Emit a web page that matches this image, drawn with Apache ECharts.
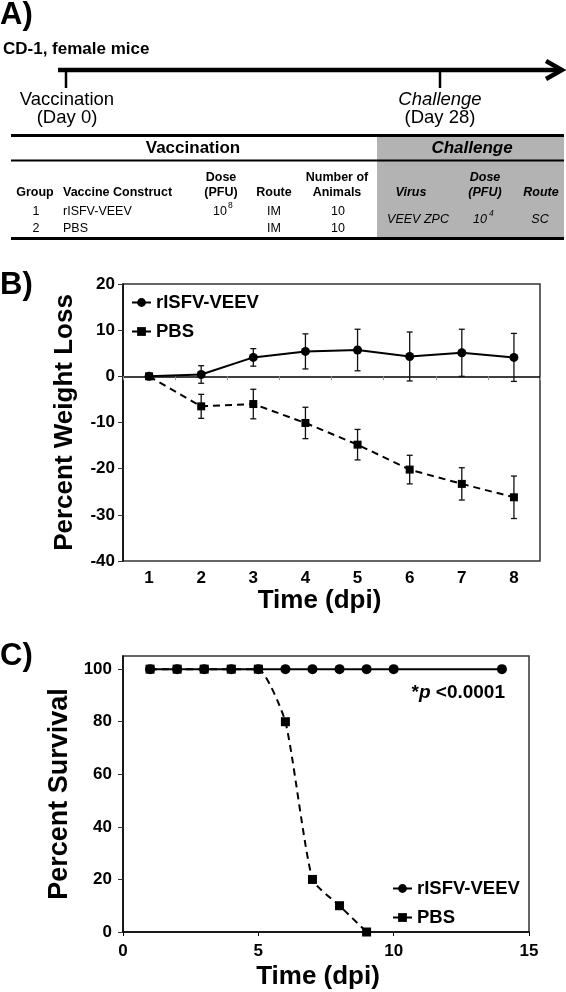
<!DOCTYPE html>
<html>
<head>
<meta charset="utf-8">
<script src="https://cdn.jsdelivr.net/npm/echarts/dist/echarts.min.js"></script>
<style>
html,body{margin:0;padding:0;background:#fff;}
#chart{width:566px;height:992px;}
</style>
</head>
<body>
<div id="chart"></div>
<script>
// ---------- data ----------
const seriesNames = ['rISFV-VEEV', 'PBS'];
// Panel B: percent weight loss by day post infection
const weightDays = ['1', '2', '3', '4', '5', '6', '7', '8'];
const vaccineWeight = [0, 0.4, 4.1, 5.4, 5.7, 4.3, 5.1, 4.1];
const vaccineWeightErr = [0, 1.9, 1.9, 3.8, 4.5, 5.3, 5.1, 5.2];
const pbsWeight = [0, -6.5, -6.0, -10.1, -14.8, -20.2, -23.3, -26.2];
const pbsWeightErr = [0, 2.6, 3.2, 3.4, 3.3, 3.1, 3.5, 4.6];
// Panel C: percent survival
const vaccineSurvDays = [1, 2, 3, 4, 5, 6, 7, 8, 9, 10, 14];
const vaccineSurv = [100, 100, 100, 100, 100, 100, 100, 100, 100, 100, 100];
const pbsSurvDays = [1, 2, 3, 4, 5, 6, 7, 8, 9];
const pbsSurv = [100, 100, 100, 100, 100, 80, 20, 10, 0];
const survTicks = [0, 20, 40, 60, 80, 100];
// Panel A table text
const tableGroups = ['1', '2'];
const tableConstructs = ['rISFV-VEEV', 'PBS'];
const tableRoutes = ['IM', 'IM'];
const tableAnimals = ['10', '10'];

// ---------- helpers ----------
const FF = '"Liberation Sans", Arial, Helvetica, sans-serif';
const font = (size, weight, style) => `${style || 'normal'} ${weight || 'normal'} ${size}px ${FF}`;
function txt(text, x, y, f, align, extra) {
  return Object.assign({
    type: 'text', x: x, y: y, silent: true,
    style: { text: text, font: f, fill: '#000', textAlign: align || 'center', textVerticalAlign: 'middle' }
  }, extra || {});
}
function line(x1, y1, x2, y2, w, color) {
  return { type: 'line', silent: true, shape: { x1, y1, x2, y2 }, style: { stroke: color || '#000', lineWidth: w } };
}
function errSeries(name, xi, yi, xs, vals, errs) {
  const data = [];
  vals.forEach((v, i) => { if (errs[i] > 0) data.push([xs[i], v - errs[i], v + errs[i]]); });
  return {
    type: 'custom', name: name, xAxisIndex: xi, yAxisIndex: yi, z: 1,
    encode: { x: 0, y: [1, 2] },
    data: data,
    renderItem: function (params, api) {
      const lo = api.coord([api.value(0), api.value(1)]);
      const hi = api.coord([api.value(0), api.value(2)]);
      const w = 3;
      const st = { stroke: '#111', lineWidth: 1.3 };
      return {
        type: 'group', children: [
          { type: 'line', shape: { x1: lo[0], y1: lo[1], x2: hi[0], y2: hi[1] }, style: st },
          { type: 'line', shape: { x1: lo[0] - w, y1: lo[1], x2: lo[0] + w, y2: lo[1] }, style: st },
          { type: 'line', shape: { x1: hi[0] - w, y1: hi[1], x2: hi[0] + w, y2: hi[1] }, style: st }
        ]
      };
    }
  };
}

// ---------- panel A graphics ----------
const graphics = [];
graphics.push(txt('A)', 0, 15, font(31, 'bold'), 'left'));
graphics.push(txt('B)', 0, 285, font(31, 'bold'), 'left'));
graphics.push(txt('C)', 0, 656, font(31, 'bold'), 'left'));
graphics.push(txt('CD-1, female mice', 3, 49, font(17, 'bold'), 'left'));
// timeline arrow
graphics.push(line(58, 70, 560, 70, 4.5));
graphics.push({ type: 'polyline', silent: true, shape: { points: [[546, 61], [562, 70], [546, 79]] },
  style: { stroke: '#000', lineWidth: 4.5, fill: null, lineJoin: 'miter' } });
graphics.push(line(66, 70, 66, 88, 2.5));
graphics.push(line(440, 70, 440, 88, 2.5));
graphics.push(txt('Vaccination', 67, 100, font(18.5)));
graphics.push(txt('(Day 0)', 67, 118, font(18.5)));
graphics.push(txt('Challenge', 440, 100, font(18.5, 'normal', 'italic')));
graphics.push(txt('(Day 28)', 440, 118, font(18.5)));
// table
graphics.push({ type: 'rect', silent: true, shape: { x: 377, y: 136, width: 187, height: 102 }, style: { fill: '#b3b3b3' } });
graphics.push(line(11, 135.5, 564, 135.5, 3));
graphics.push(line(11, 160.5, 564, 160.5, 2.2));
graphics.push(line(11, 238.5, 564, 238.5, 3));
graphics.push(txt('Vaccination', 193, 148, font(17, 'bold')));
graphics.push(txt('Challenge', 472, 148, font(17, 'bold', 'italic')));
const hf = font(12.5, 'bold');
const hfi = font(12.5, 'bold', 'italic');
const df = font(12.5);
const dfi = font(12.5, 'normal', 'italic');
graphics.push(txt('Group', 35, 193, hf));
graphics.push(txt('Vaccine Construct', 63, 193, hf, 'left'));
graphics.push(txt('Dose', 221, 178, hf));
graphics.push(txt('(PFU)', 221, 193, hf));
graphics.push(txt('Route', 274, 193, hf));
graphics.push(txt('Number of', 337, 178, hf));
graphics.push(txt('Animals', 337, 193, hf));
graphics.push(txt('Virus', 411, 193, hfi));
graphics.push(txt('Dose', 485, 178, hfi));
graphics.push(txt('(PFU)', 485, 193, hfi));
graphics.push(txt('Route', 541, 193, hfi));
const rowY = [212, 229];
tableGroups.forEach((g, i) => {
  graphics.push(txt(g, 36, rowY[i], df));
  graphics.push(txt(tableConstructs[i], 63, rowY[i], df, 'left'));
  graphics.push(txt(tableRoutes[i], 274, rowY[i], df));
  graphics.push(txt(tableAnimals[i], 338, rowY[i], df));
});
graphics.push(txt('10', 227, 212, df, 'right'));
graphics.push(txt('8', 228, 206, font(8.5), 'left'));
graphics.push(txt('VEEV ZPC', 418, 220, dfi));
graphics.push(txt('10', 487, 220, dfi, 'right'));
graphics.push(txt('4', 489, 214, font(8.5, 'normal', 'italic'), 'left'));
graphics.push(txt('SC', 540, 220, dfi));
// p-value annotation in panel C
graphics.push({
  type: 'text', x: 505, y: 693, silent: true,
  style: {
    text: '{a|*}{b|p}{a| <0.0001}', textAlign: 'right', textVerticalAlign: 'middle',
    rich: {
      a: { fontFamily: FF, fontWeight: 'bold', fontSize: 19, fill: '#000' },
      b: { fontFamily: FF, fontWeight: 'bold', fontStyle: 'italic', fontSize: 19, fill: '#000' }
    }
  }
});

// ---------- chart ----------
const axisLabelStyle = { color: '#000', fontFamily: FF, fontWeight: 'bold', fontSize: 17 };
const nameStyle = { color: '#000', fontFamily: FF, fontWeight: 'bold', fontSize: 26 };
const legendText = { color: '#000', fontFamily: FF, fontWeight: 'bold', fontSize: 18.5 };

const option = {
  animation: false,
  backgroundColor: '#fff',
  graphic: graphics,
  grid: [
    { left: 123, top: 284, width: 417, height: 277, show: true, borderColor: '#333', borderWidth: 1.5, backgroundColor: 'transparent' },
    { left: 123, top: 656, width: 406, height: 276, show: true, borderColor: '#333', borderWidth: 1.5, backgroundColor: 'transparent' }
  ],
  xAxis: [
    {
      gridIndex: 0, type: 'category', data: weightDays, boundaryGap: true,
      axisLine: { lineStyle: { color: '#000', width: 1.5 } },
      axisTick: { show: true, length: 4, lineStyle: { color: '#999' } },
      axisLabel: Object.assign({ margin: 9 }, axisLabelStyle),
      name: 'Time (dpi)', nameLocation: 'middle', nameGap: 27,
      nameTextStyle: Object.assign({ padding: [0, 24, 0, 0] }, nameStyle),
      splitLine: { show: false }
    },
    {
      gridIndex: 1, type: 'value', min: 0, max: 15, interval: 5,
      axisLine: { lineStyle: { color: '#000', width: 1.5 } },
      axisTick: { show: true, length: 4, lineStyle: { color: '#000' } },
      axisLabel: Object.assign({ margin: 11 }, axisLabelStyle),
      name: 'Time (dpi)', nameLocation: 'middle', nameGap: 32,
      nameTextStyle: Object.assign({ padding: [0, 16, 0, 0] }, nameStyle),
      splitLine: { show: false }
    }
  ],
  yAxis: [
    {
      gridIndex: 0, type: 'value', min: -40, max: 20, interval: 10,
      axisLine: { show: true, lineStyle: { color: '#000', width: 1.5 } },
      axisTick: { show: true, length: 5, lineStyle: { color: '#333' } },
      axisLabel: Object.assign({ margin: 8 }, axisLabelStyle),
      name: 'Percent Weight Loss', nameLocation: 'middle', nameGap: 45, nameTextStyle: nameStyle,
      splitLine: { show: false }
    },
    {
      gridIndex: 1, type: 'value', min: 0, max: 105,
      axisLine: { show: true, lineStyle: { color: '#000', width: 1.5 } },
      axisTick: { show: true, length: 5, lineStyle: { color: '#333' }, customValues: survTicks },
      axisLabel: Object.assign({ margin: 11, customValues: survTicks }, axisLabelStyle),
      name: 'Percent Survival', nameLocation: 'middle', nameGap: 43,
      nameTextStyle: Object.assign({}, nameStyle, { fontSize: 27 }),
      splitLine: { show: false }
    }
  ],
  legend: [
    {
      data: seriesNames, orient: 'vertical', left: 131, top: 293, padding: 0,
      itemWidth: 19, itemHeight: 11, itemGap: 10, textStyle: legendText, selectedMode: false
    },
    {
      data: seriesNames, orient: 'vertical', left: 392, top: 879, padding: 0,
      itemWidth: 19, itemHeight: 11, itemGap: 10, textStyle: legendText, selectedMode: false
    }
  ],
  series: [
    errSeries('errVaccineB', 0, 0, weightDays.map((d, i) => i), vaccineWeight, vaccineWeightErr),
    errSeries('errPbsB', 0, 0, weightDays.map((d, i) => i), pbsWeight, pbsWeightErr),
    {
      name: 'PBS', type: 'line', xAxisIndex: 0, yAxisIndex: 0, data: pbsWeight, z: 3,
      symbol: 'rect', symbolSize: 8,
      lineStyle: { color: '#000', width: 2, type: [7, 5] }, itemStyle: { color: '#000' }
    },
    {
      name: 'rISFV-VEEV', type: 'line', xAxisIndex: 0, yAxisIndex: 0, data: vaccineWeight, z: 4,
      symbol: 'circle', symbolSize: 9,
      lineStyle: { color: '#000', width: 2, type: 'solid' }, itemStyle: { color: '#000' }
    },
    {
      name: 'PBS', type: 'line', xAxisIndex: 1, yAxisIndex: 1, z: 3,
      data: pbsSurvDays.map((d, i) => [d, pbsSurv[i]]),
      symbol: 'rect', symbolSize: 9, smooth: 0.18,
      lineStyle: { color: '#000', width: 2, type: [7, 5] }, itemStyle: { color: '#000' }
    },
    {
      name: 'rISFV-VEEV', type: 'line', xAxisIndex: 1, yAxisIndex: 1, z: 4,
      data: vaccineSurvDays.map((d, i) => [d, vaccineSurv[i]]),
      symbol: 'circle', symbolSize: 10,
      lineStyle: { color: '#000', width: 2 }, itemStyle: { color: '#000' }
    }
  ]
};

const chart = echarts.init(document.getElementById('chart'), null, { renderer: 'canvas' });
chart.setOption(option);
</script>
</body>
</html>
